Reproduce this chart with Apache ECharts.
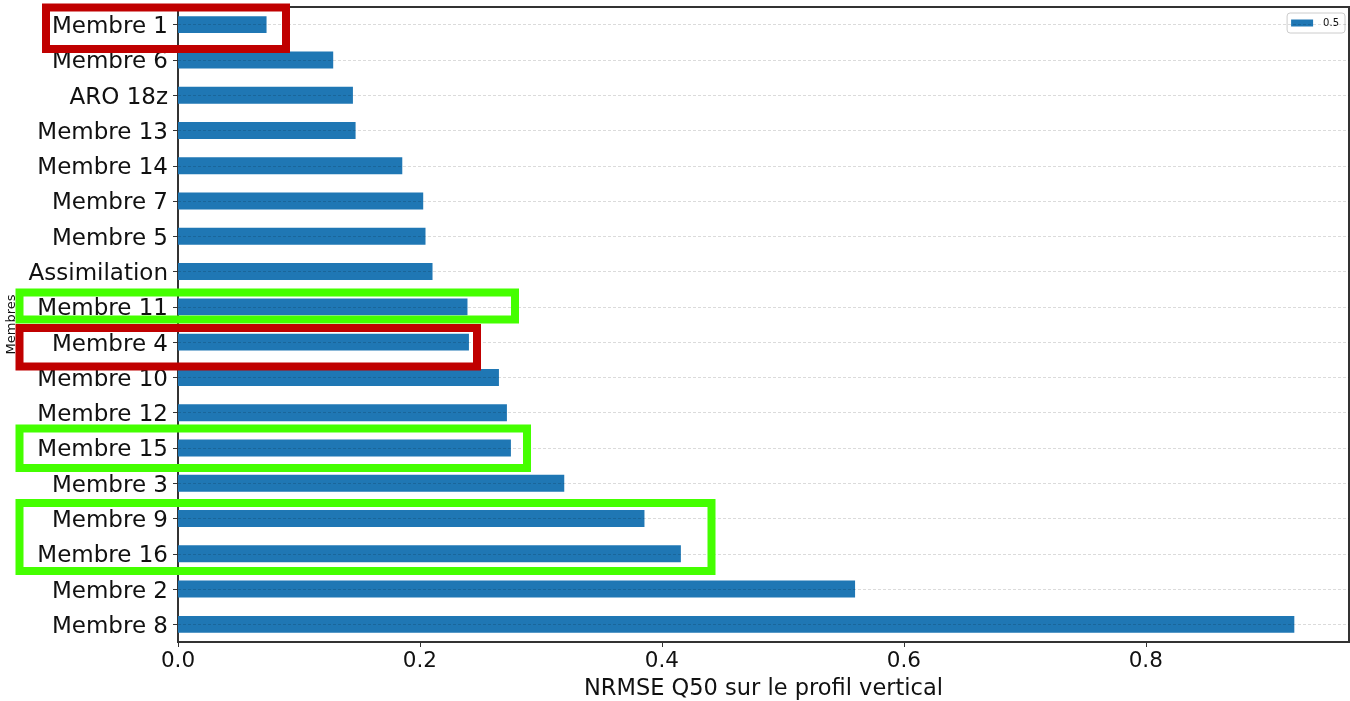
<!DOCTYPE html>
<html>
<head>
<meta charset="utf-8">
<script src="https://cdn.jsdelivr.net/npm/echarts@6/dist/echarts.min.js"></script>
<style>html,body{margin:0;padding:0;background:#fff}#c{width:1350px;height:701px}</style>
</head>
<body>
<div id="c"></div>
<script>
const categories = ['Membre 1','Membre 6','ARO 18z','Membre 13','Membre 14','Membre 7','Membre 5','Assimilation','Membre 11','Membre 4','Membre 10','Membre 12','Membre 15','Membre 3','Membre 9','Membre 16','Membre 2','Membre 8'];
const values = [0.0732,0.1283,0.1446,0.1468,0.1854,0.2027,0.2046,0.2104,0.2393,0.2405,0.2653,0.2719,0.2752,0.3193,0.3856,0.4157,0.5597,0.9228];
const seriesName = '0.5';
const xTicks = [0, 0.2, 0.4, 0.6, 0.8];
const xName = 'NRMSE Q50 sur le profil vertical';
const yName = 'Membres';

const FONT = 'DejaVu Sans';
const chart = echarts.init(document.getElementById('c'), null, {renderer:'canvas'});

const boxes = [
  {x:46, y:7.5, w:240, h:41.5, c:'#c00000'},
  {x:19.5, y:292.5, w:495.5, h:27, c:'#44ff00'},
  {x:19.5, y:328, w:457.5, h:38.5, c:'#c00000'},
  {x:19.5, y:428.5, w:507.5, h:39.5, c:'#44ff00'},
  {x:19.5, y:503, w:692, h:68, c:'#44ff00'}
];

chart.setOption({
  animation:false,
  grid:{left:178, top:7, right:1, bottom:59, show:true, borderColor:'#333', borderWidth:2,
        containLabel:false, outerBoundsMode:'none'},
  legend:{
    data:[seriesName], right:5, top:13, orient:'vertical',
    itemWidth:22, itemHeight:7, padding:[5,6,5,4],
    borderColor:'#cccccc', borderWidth:1, borderRadius:3, backgroundColor:'#fff',
    textStyle:{fontFamily:FONT, fontSize:10, color:'#111', padding:[0,0,0,5]},
    icon:'rect'
  },
  xAxis:{
    type:'value', min:0, max:0.968, interval:0.2,
    name:xName, nameLocation:'middle', nameGap:36,
    nameTextStyle:{fontFamily:FONT, fontSize:22.5, color:'#111'},
    axisLine:{show:true, lineStyle:{color:'#333', width:2}},
    axisTick:{show:true, length:5, lineStyle:{color:'#333', width:1}},
    axisLabel:{fontFamily:FONT, fontSize:21.5, color:'#111', margin:8, showMaxLabel:false,
      formatter:function(v){ return xTicks.some(t=>Math.abs(t-v)<1e-9) ? v.toFixed(1) : ''; }},
    splitLine:{show:false}
  },
  yAxis:{
    type:'category', data:categories, inverse:true,
    name:yName, nameLocation:'middle', nameGap:155,
    nameTextStyle:{fontFamily:FONT, fontSize:13, color:'#111'},
    axisLine:{show:true, lineStyle:{color:'#333', width:2}},
    axisTick:{show:true, alignWithLabel:true, length:5, lineStyle:{color:'#333', width:1}},
    axisLabel:{margin:10, formatter:function(v){ return '{a|' + v + '}'; },
      rich:{a:{fontFamily:FONT, fontSize:23, color:'#111', padding:[5,0,0,0]}}},
    splitLine:{show:false}
  },
  series:[{
    name:seriesName, type:'bar', data:values, barWidth:'48%',
    itemStyle:{color:'#1f77b4'},
    markLine:{
      silent:true, symbol:'none', label:{show:false}, z:5,
      lineStyle:{color:'rgba(0,0,0,0.14)', type:[3,2], width:1},
      data:categories.map(c=>({yAxis:c}))
    }
  }],
  graphic: boxes.map(b=>({
    type:'rect', z:100, silent:true,
    shape:{x:b.x, y:b.y, width:b.w, height:b.h},
    style:{fill:null, stroke:b.c, lineWidth:8}
  }))
});
</script>
</body>
</html>
